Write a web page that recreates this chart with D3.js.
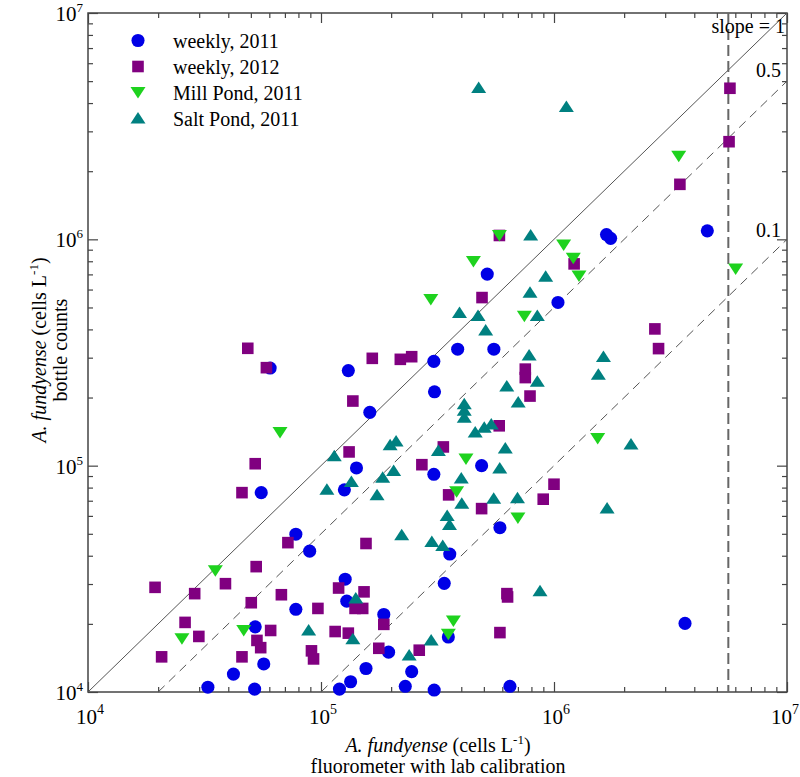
<!DOCTYPE html>
<html>
<head>
<meta charset="utf-8">
<script src="https://cdn.jsdelivr.net/npm/d3@7"></script>
<style>
  html, body { margin: 0; padding: 0; background: #fff; }
  svg { display: block; }
  text { font-family: "Liberation Serif", "Times New Roman", serif; fill: #000; }
</style>
</head>
<body>
<svg id="chart" width="800" height="777"></svg>
<script>
// ---------------- data ----------------
const weekly2011X = [4.55e6,1.68e6,1.75e6,5.17e5,1.04e6,3.86e5,5.52e5,3.05e5,6.05e4,1.31e5,3.07e5,1.62e5,1.42e5,4.89e5,3.05e5,5.54e4,1.26e5,5.86e5,3.57e5,7.80e4,8.94e4,1.27e5,3.38e5,1.29e5,7.80e4,1.86e5,3.65e6,5.22e4,3.52e5,1.95e5,5.68e4,1.56e5,2.45e5,4.21e4,1.34e5,3.27e4,5.19e4,1.20e5,2.30e5,3.06e5,6.47e5];
const weekly2011Y = [1.09e6,1.05e6,1.01e6,7.02e5,5.26e5,3.27e5,3.27e5,2.89e5,2.70e5,2.63e5,2.12e5,1.72e5,9.77e4,1.00e5,9.16e4,7.60e4,7.82e4,5.32e4,4.07e4,4.98e4,4.19e4,3.15e4,3.02e4,2.52e4,2.32e4,2.20e4,2.01e4,1.94e4,1.75e4,1.50e4,1.33e4,1.27e4,1.23e4,1.20e4,1.11e4,1.05e4,1.03e4,1.03e4,1.06e4,1.02e4,1.06e4];

const weekly2012X = [5.69e6,5.64e6,3.47e6,5.83e5,1.22e6,4.91e5,2.71e6,2.81e6,4.85e4,5.83e4,1.66e5,2.19e5,2.45e5,7.53e5,7.53e5,7.89e5,1.37e5,5.82e5,3.35e5,1.32e5,2.71e5,5.22e4,1.00e6,4.58e4,3.53e5,8.99e5,4.89e5,1.56e5,7.21e4,5.27e4,3.89e4,1.94e4,2.87e4,6.76e4,1.19e5,1.53e5,5.02e4,9.70e4,1.40e5,1.51e5,6.28e5,6.32e5,2.61e4,1.86e5,6.08e4,1.15e5,1.31e5,5.86e5,2.99e4,5.31e4,5.51e4,9.10e4,9.29e4,1.77e5,2.64e5,2.07e4,4.58e4];
const weekly2012Y = [4.65e6,2.70e6,1.75e6,1.04e6,7.79e5,5.53e5,4.02e5,3.29e5,3.30e5,2.71e5,2.98e5,2.95e5,3.03e5,2.67e5,2.45e5,2.03e5,1.93e5,1.50e5,1.21e5,1.15e5,1.01e5,1.02e5,8.28e4,7.60e4,7.43e4,7.11e4,6.46e4,4.53e4,4.57e4,3.58e4,3.01e4,2.90e4,2.72e4,2.69e4,2.88e4,2.77e4,2.48e4,2.34e4,2.34e4,2.34e4,2.72e4,2.63e4,2.03e4,1.99e4,1.87e4,1.85e4,1.82e4,1.83e4,1.76e4,1.69e4,1.57e4,1.52e4,1.40e4,1.56e4,1.53e4,1.43e4,1.43e4];

const millPondX = [3.43e6,5.83e5,1.10e6,1.21e6,1.28e6,6.02e6,4.51e5,2.96e5,7.46e5,6.67e4,1.54e6,4.19e5,3.82e5,7.00e5,3.52e4,4.66e4,2.53e4,3.70e5,3.52e5];
const millPondY = [2.33e6,1.04e6,9.45e5,8.24e5,6.89e5,7.40e5,7.98e5,5.42e5,4.57e5,1.40e5,1.32e5,1.07e5,7.66e4,5.87e4,3.43e4,1.87e4,1.72e4,2.06e4,1.80e4];

const saltPondX = [4.75e5,1.13e6,7.94e5,9.21e5,7.89e5,3.93e5,4.72e5,8.48e5,5.09e5,7.82e5,1.63e6,1.55e6,8.48e5,6.27e5,7.02e5,4.12e5,4.12e5,4.12e5,5.38e5,5.02e5,4.59e5,2.14e6,6.18e5,3.19e5,1.98e5,2.10e5,1.14e5,5.85e5,4.00e5,2.05e5,1.84e5,1.35e5,1.06e5,1.74e5,4.02e5,5.51e5,6.97e5,1.69e6,3.48e5,3.56e5,2.22e5,2.99e5,3.33e5,8.71e5,1.41e5,8.85e4,1.37e5,2.97e5,2.39e5];
const saltPondY = [4.66e6,3.84e6,1.04e6,6.84e5,5.81e5,4.73e5,4.59e5,4.59e5,3.96e5,3.07e5,3.02e5,2.52e5,2.35e5,2.24e5,1.90e5,1.87e5,1.75e5,1.63e5,1.52e5,1.47e5,1.40e5,1.24e5,1.19e5,1.16e5,1.23e5,1.28e5,1.10e5,9.72e4,8.77e4,9.48e4,8.85e4,8.46e4,7.82e4,7.41e4,6.79e4,7.14e4,7.18e4,6.47e4,6.00e4,5.47e4,4.93e4,4.60e4,4.42e4,2.79e4,2.59e4,1.87e4,1.71e4,1.69e4,1.45e4];

const seriesNames = ["weekly, 2011", "weekly, 2012", "Mill Pond, 2011", "Salt Pond, 2011"];
const seriesColors = ["#0000e6", "#800080", "#1ed21e", "#008080"];
const seriesShapes = ["circle", "square", "down", "up"];

const slopes = [1, 0.5, 0.1];
const slopeLabels = ["slope = 1", "0.5", "0.1"];
const verticalX = 5.6e6;
const axisDomain = [1e4, 1e7];
const majorTicks = [1e4, 1e5, 1e6, 1e7];
const exponents = ["4", "5", "6", "7"];

// ---------------- layout ----------------
const svg = d3.select("#chart");
const L = 88, R = 787, T = 13, B = 692;
const x = d3.scaleLog().domain(axisDomain).range([L, R]);
const y = d3.scaleLog().domain(axisDomain).range([B, T]);

const minorTicks = [];
for (let e = 4; e < 7; e++) for (let m = 2; m <= 9; m++) minorTicks.push(m * Math.pow(10, e));

const axisColor = "#444";

function drawAxis(gen, transform, values, size) {
  const g = svg.append("g").attr("transform", transform)
    .call(gen.tickValues(values).tickSize(size).tickFormat(""));
  g.select(".domain").remove();
  g.selectAll(".tick line").attr("stroke", axisColor).attr("stroke-width", 1.2);
  return g;
}
drawAxis(d3.axisBottom(x), `translate(0,${B})`, majorTicks, -10);
drawAxis(d3.axisBottom(x), `translate(0,${B})`, minorTicks, -5);
drawAxis(d3.axisTop(x), `translate(0,${T})`, majorTicks, -10);
drawAxis(d3.axisTop(x), `translate(0,${T})`, minorTicks, -5);
drawAxis(d3.axisLeft(y), `translate(${L},0)`, majorTicks, -10);
drawAxis(d3.axisLeft(y), `translate(${L},0)`, minorTicks, -5);
drawAxis(d3.axisRight(y), `translate(${R},0)`, majorTicks, -10);
drawAxis(d3.axisRight(y), `translate(${R},0)`, minorTicks, -5);

svg.append("rect").attr("x", L).attr("y", T).attr("width", R - L).attr("height", B - T)
  .attr("fill", "none").attr("stroke", axisColor).attr("stroke-width", 1.5);

// tick labels
majorTicks.forEach((v, i) => {
  const last = i === majorTicks.length - 1;
  const tx = svg.append("text").attr("x", last ? 799 : x(v) + 2).attr("y", B + 32)
    .attr("text-anchor", last ? "end" : "middle").attr("font-size", 21);
  tx.append("tspan").text("10");
  tx.append("tspan").attr("font-size", 14).attr("dy", -10).text(exponents[i]);
  const ty = svg.append("text").attr("x", 83).attr("y", y(v) + 8)
    .attr("text-anchor", "end").attr("font-size", 21);
  ty.append("tspan").text("10");
  ty.append("tspan").attr("font-size", 13).attr("dy", -9).text(exponents[i]);
});

// reference lines
const lineColor = "#555";
slopes.forEach((s, i) => {
  const x0 = Math.max(axisDomain[0], axisDomain[0] / s);
  const x1 = axisDomain[1];
  svg.append("line")
    .attr("x1", x(x0)).attr("y1", y(x0 * s))
    .attr("x2", x(x1)).attr("y2", y(x1 * s))
    .attr("stroke", lineColor).attr("stroke-width", 1)
    .attr("stroke-dasharray", s === 1 ? null : "9,6");
});
svg.append("line")
  .attr("x1", x(verticalX)).attr("x2", x(verticalX))
  .attr("y1", T).attr("y2", B)
  .attr("stroke", "#666").attr("stroke-width", 2).attr("stroke-dasharray", "11,5");

svg.append("text").attr("x", 785).attr("y", 33).attr("text-anchor", "end")
  .attr("font-size", 20).text(slopeLabels[0]);
svg.append("text").attr("x", 781).attr("y", 77).attr("text-anchor", "end")
  .attr("font-size", 20).text(slopeLabels[1]);
svg.append("text").attr("x", 781).attr("y", 237).attr("text-anchor", "end")
  .attr("font-size", 20).text(slopeLabels[2]);

// markers
function shapePath(shape) {
  if (shape === "circle") return d3.symbol(d3.symbolCircle, 135)();
  if (shape === "square") return "M-5.8,-5.8H5.8V5.8H-5.8Z";
  if (shape === "down") return "M-7.5,-5.5H7.5L0,6Z";
  return "M0,-6.5L7.5,5L-7.5,5Z";
}
const seriesData = [
  [weekly2011X, weekly2011Y],
  [weekly2012X, weekly2012Y],
  [millPondX, millPondY],
  [saltPondX, saltPondY]
];
const drawOrder = [0, 1, 3, 2];
drawOrder.forEach(si => {
  const [xs, ys] = seriesData[si];
  const pts = xs.map((v, i) => [v, ys[i]]);
  svg.append("g").selectAll("path").data(pts).join("path")
    .attr("d", shapePath(seriesShapes[si]))
    .attr("transform", d => `translate(${x(d[0])},${y(d[1])})`)
    .attr("fill", seriesColors[si]);
});

// legend
seriesNames.forEach((name, i) => {
  const cy = 40.5 + i * 26;
  svg.append("path").attr("d", shapePath(seriesShapes[i]))
    .attr("transform", `translate(138,${cy})`).attr("fill", seriesColors[i]);
  svg.append("text").attr("x", 173).attr("y", cy + 7).attr("font-size", 20).text(name);
});

// axis titles
const xt = svg.append("text").attr("x", 438).attr("y", 752).attr("text-anchor", "middle").attr("font-size", 20);
xt.append("tspan").attr("font-style", "italic").text("A. fundyense");
xt.append("tspan").text(" (cells L");
xt.append("tspan").attr("font-size", 13).attr("dy", -8).text("-1");
xt.append("tspan").attr("dy", 8).text(")");
svg.append("text").attr("x", 438).attr("y", 773).attr("text-anchor", "middle").attr("font-size", 20)
  .text("fluorometer with lab calibration");

const yt = svg.append("text").attr("transform", "translate(46,350) rotate(-90)")
  .attr("text-anchor", "middle").attr("font-size", 20);
yt.append("tspan").attr("font-style", "italic").text("A. fundyense");
yt.append("tspan").text(" (cells L");
yt.append("tspan").attr("font-size", 13).attr("dy", -8).text("-1");
yt.append("tspan").attr("dy", 8).text(")");
svg.append("text").attr("transform", "translate(67,350) rotate(-90)")
  .attr("text-anchor", "middle").attr("font-size", 20).text("bottle counts");
</script>
</body>
</html>
